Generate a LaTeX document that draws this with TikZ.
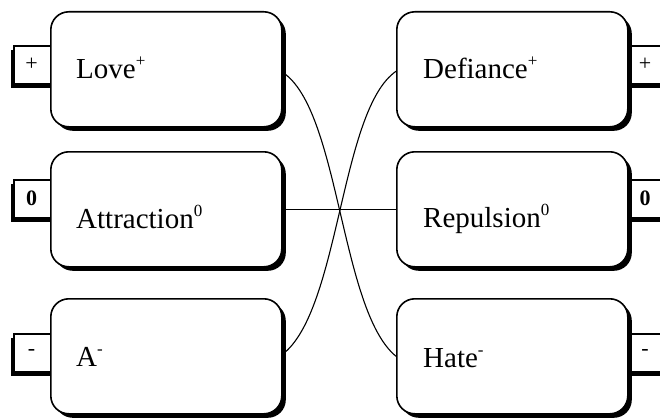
\documentclass[tikz,border=0pt]{standalone}
\usepackage{fontspec}
\setmainfont{Liberation Serif}[Ligatures=NoCommon]
\usetikzlibrary{shadows}
\newcommand\supx[1]{\raisebox{12pt}{\fontsize{17}{17}\selectfont #1}}
\begin{document}
\begin{tikzpicture}[x=1pt,y=-1pt,
  box/.style={draw, line width=1.6pt, fill=white, rounded corners=18pt,
    minimum width=231pt, minimum height=115pt, inner sep=0pt, anchor=north west,
    drop shadow={shadow xshift=4pt, shadow yshift=-4pt, opacity=1, fill=black}},
  ltab/.style={draw, line width=1.6pt, fill=white, minimum width=42pt, minimum height=38pt,
    inner sep=0pt, anchor=north west,
    drop shadow={shadow xshift=-3pt, shadow yshift=-4pt, opacity=1, fill=black}},
  rtab/.style={draw, line width=1.6pt, fill=white, minimum width=44pt, minimum height=38pt,
    inner sep=0pt, anchor=north west,
    drop shadow={shadow xshift=3pt, shadow yshift=-4pt, opacity=1, fill=black}},
  tabtxt/.style={inner sep=0pt, font=\fontsize{22}{22}\selectfont},
  lbl/.style={inner sep=0pt, anchor=base west, font=\fontsize{29}{31}\selectfont},
  conn/.style={draw, line width=1.1pt}]
\clip (0,0) rectangle (660,417);
\fill[white] (0,0) rectangle (660,417);
% tabs
\node[ltab] (t1) at (13,45) {};
\node[ltab] (t2) at (13,179) {};
\node[ltab] (t3) at (13,333) {};
\node[rtab] (r1) at (620,45) {};
\node[rtab] (r2) at (620,179) {};
\node[rtab] (r3) at (620,333) {};
% boxes
\node[box] (love) at (50,11) {};
\node[box] (attr) at (50,151) {};
\node[box] (a) at (50,298) {};
\node[box] (def) at (396,11) {};
\node[box] (rep) at (396,151) {};
\node[box] (hate) at (396,298) {};
% tab texts
\node[tabtxt] (tt1) at (31.5,64) {+};
\node[tabtxt] (tt2) at (31.5,198) {\textbf{0}};
\node[tabtxt] (tt3) at (31.5,352) {-};
\node[tabtxt] (rt1) at (645,64) {+};
\node[tabtxt] (rt2) at (645,198) {\textbf{0}};
\node[tabtxt] (rt3) at (645,352) {-};
% labels
\node[lbl] (l1) at (76,79) {Love\supx{+}};
\node[lbl] (l2) at (76,228) {Attraction\supx{0}};
\node[lbl] (l3) at (76,366) {A\supx{-}};
\node[lbl] (l4) at (423,79) {Defiance\supx{+}};
\node[lbl] (l5) at (423,227) {Repulsion\supx{0}};
\node[lbl] (l6) at (423,367) {Hate\supx{-}};
% connectors
\draw[conn] ([yshift=-3pt]love.east) .. controls (340,110) and (340,310) .. (hate.west);
\draw[conn] ([yshift=-2pt]def.west) .. controls (340,110) and (340,310) .. ([yshift=2pt]a.east);
\draw[conn] (attr.east) -- (rep.west);
\end{tikzpicture}
\end{document}
